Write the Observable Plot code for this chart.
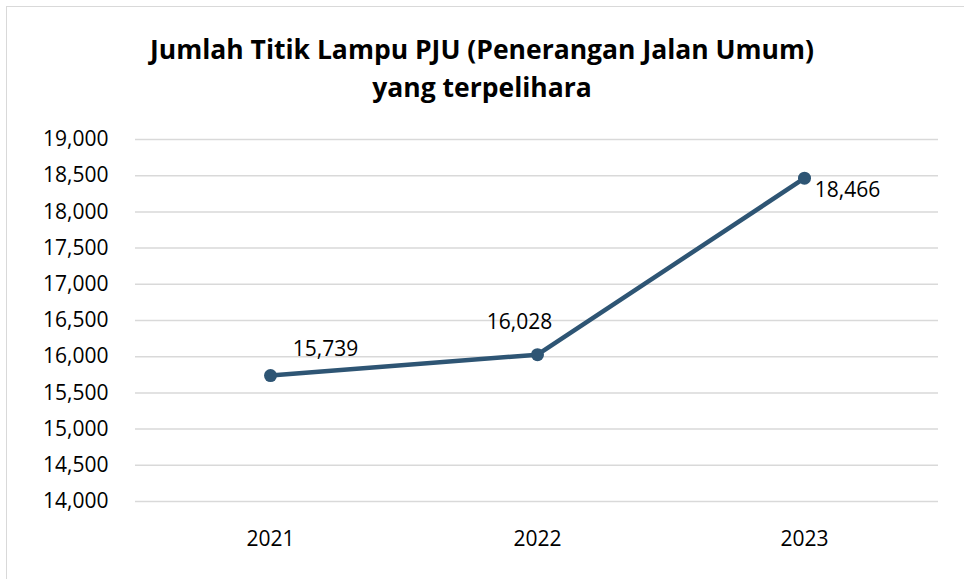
<!DOCTYPE html>
<html>
<head>
<meta charset="utf-8">
<script src="https://cdn.jsdelivr.net/npm/d3@7"></script>
<script src="https://cdn.jsdelivr.net/npm/@observablehq/plot@0.6"></script>
<style>
  html, body { margin: 0; padding: 0; background: #fff; width: 964px; height: 579px; overflow: hidden; }
  #frame { position: absolute; left: 6px; top: 6px; width: 970px; height: 590px; border: 1.5px solid #d9d9d9; box-sizing: border-box; }
  #title { position: absolute; left: 0; top: 30px; width: 964px; text-align: center; font-family: "Open Sans", sans-serif; font-weight: bold; font-size: 26.5px; line-height: 38px; color: #000; }
  #chart { position: absolute; left: 0; top: 110px; }
</style>
</head>
<body>
<div id="frame"></div>
<div id="title">Jumlah Titik Lampu PJU (Penerangan Jalan Umum)<br>yang terpelihara</div>
<div id="chart"></div>
<script>
const years = ["2021", "2022", "2023"];
const values = [15739, 16028, 18466];
const yTicks = [14000, 14500, 15000, 15500, 16000, 16500, 17000, 17500, 18000, 18500, 19000];

const data = years.map((y, i) => ({year: y, value: values[i]}));
const fmt = d3.format(",");
const color = "#2E5574";

const plot = Plot.plot({
  width: 964,
  height: 469,
  marginTop: 29,
  marginBottom: 78,
  marginLeft: 135,
  marginRight: 26,
  style: {fontFamily: "'Open Sans', sans-serif", fontSize: "21px", color: "#000", background: "transparent"},
  x: {type: "point", domain: years, padding: 0.5, label: null},
  y: {domain: [14000, 19000], label: null},
  marks: [
    Plot.gridY(yTicks, {stroke: "#d9d9d9", strokeOpacity: 1, strokeWidth: 1.5}),
    Plot.axisY(yTicks, {tickSize: 0, tickPadding: 27, tickFormat: fmt, fontSize: 21, label: null}),
    Plot.axisX(years, {tickSize: 0, tickPadding: 30, fontSize: 21, label: null}),
    Plot.line(data, {x: "year", y: "value", stroke: color, strokeWidth: 4.5}),
    Plot.dot(data, {x: "year", y: "value", r: 6.5, fill: color}),
    Plot.text(data.filter(d => d.year === "2021"), {x: "year", y: "value", text: d => fmt(d.value), dx: 55, dy: -26, fontSize: 21, fill: "#000"}),
    Plot.text(data.filter(d => d.year === "2022"), {x: "year", y: "value", text: d => fmt(d.value), dx: -18, dy: -32, fontSize: 21, fill: "#000"}),
    Plot.text(data.filter(d => d.year === "2023"), {x: "year", y: "value", text: d => fmt(d.value), dx: 43, dy: 12, fontSize: 21, fill: "#000"})
  ]
});
document.getElementById("chart").appendChild(plot);
</script>
</body>
</html>
